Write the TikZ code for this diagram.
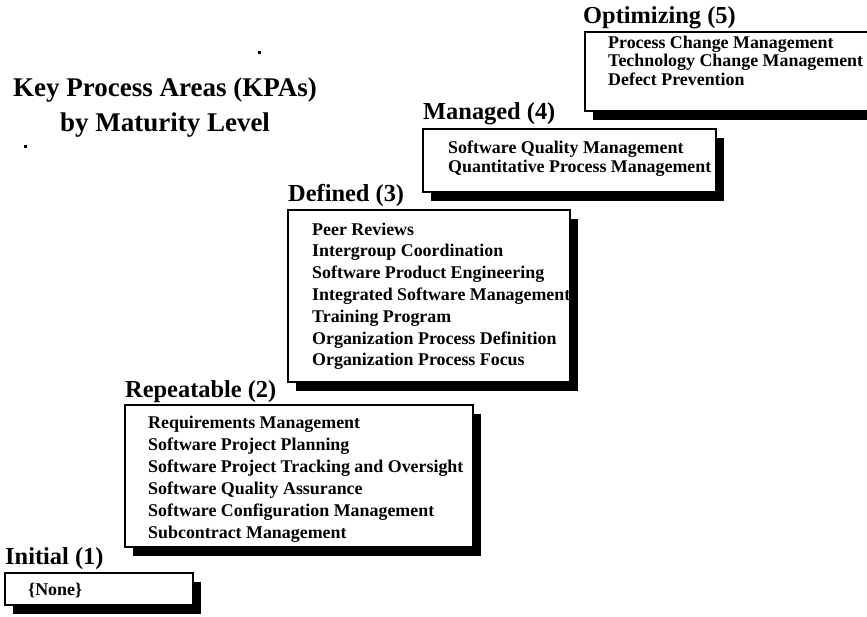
\documentclass[tikz,border=0pt]{standalone}
\usepackage{fontspec}
\setmainfont{Liberation Serif}
\usetikzlibrary{shadows}
\begin{document}
\begin{tikzpicture}[x=1pt,y=-1pt,
  kpabox/.style={draw=black, line width=1.5pt, fill=white, inner sep=0pt,
    outer sep=0pt, anchor=north west,
    drop shadow={shadow xshift=8pt, shadow yshift=-9pt, fill=black, opacity=1}},
  level/.style={font=\fontsize{24.4}{28}\selectfont\bfseries, inner sep=0pt, anchor=base west},
  item/.style={font=\fontsize{17.9}{21}\selectfont\bfseries, inner sep=0pt, anchor=base west},
  title/.style={font=\fontsize{27}{32}\selectfont\bfseries, inner sep=0pt, anchor=base}]
\useasboundingbox (0,0) rectangle (867,616);

% heading
\node[title] (t1) at (165,96) {Key Process Areas (KPAs)};
\node[title] (t2) at (165,131) {by Maturity Level};

% stray specks
\fill (258,51) rectangle (261,54);
\fill (24,145) rectangle (27,148);

% level 5
\node[kpabox, minimum width=283pt, minimum height=79pt] (opt) at (585,32) {};
\node[level] (optl) at (583,23) {Optimizing (5)};
\foreach \t [count=\i] in {Process Change Management, Technology Change Management, Defect Prevention}
  \node[item] (opt-\i) at (608,{48+18.5*(\i-1)}) {\t};

% level 4
\node[kpabox, minimum width=293pt, minimum height=63pt] (man) at (423,129) {};
\node[level] (manl) at (423,119) {Managed (4)};
\foreach \t [count=\i] in {Software Quality Management, Quantitative Process Management}
  \node[item] (man-\i) at (448,{153+19*(\i-1)}) {\t};

% level 3
\node[kpabox, minimum width=282pt, minimum height=172pt] (def) at (288,210) {};
\node[level] (defl) at (288,201) {Defined (3)};
\foreach \t [count=\i] in {Peer Reviews, Intergroup Coordination, Software Product Engineering,
    Integrated Software Management, Training Program, Organization Process Definition,
    Organization Process Focus}
  \node[item] (def-\i) at (312,{235+21.8*(\i-1)}) {\t};

% level 2
\node[kpabox, minimum width=348pt, minimum height=142pt] (rep) at (125,405) {};
\node[level] (repl) at (125,397) {Repeatable (2)};
\foreach \t [count=\i] in {Requirements Management, Software Project Planning,
    Software Project Tracking and Oversight, Software Quality Assurance,
    Software Configuration Management, Subcontract Management}
  \node[item] (rep-\i) at (148,{428+22*(\i-1)}) {\t};

% level 1
\node[kpabox, minimum width=188pt, minimum height=32pt] (ini) at (5,573) {};
\node[level] (inil) at (5,564) {Initial (1)};
\node[item] (ini-1) at (28,595) {\{None\}};
\end{tikzpicture}
\end{document}
